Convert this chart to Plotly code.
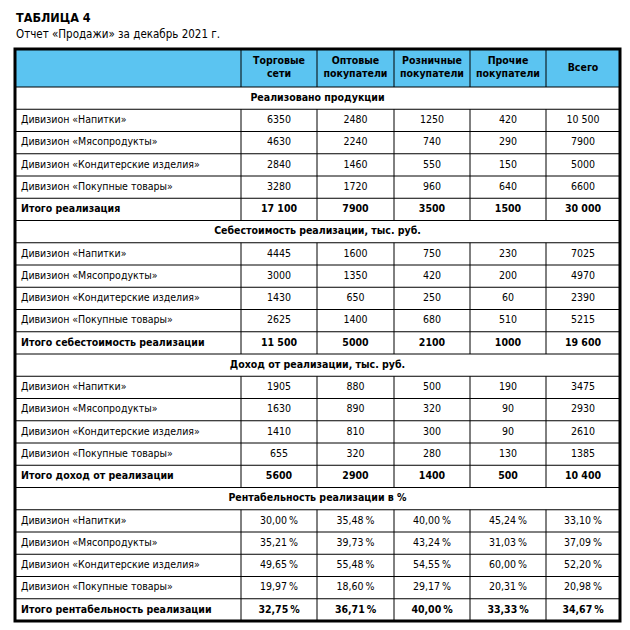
import plotly.graph_objects as go

# ---------------- data ----------------
title = "ТАБЛИЦА 4"
subtitle = "Отчет «Продажи» за декабрь 2021 г."
columns = ["Торговые<br>сети", "Оптовые<br>покупатели", "Розничные<br>покупатели", "Прочие<br>покупатели", "Всего"]
divisions = ["Дивизион «Напитки»", "Дивизион «Мясопродукты»",
             "Дивизион «Кондитерские изделия»", "Дивизион «Покупные товары»"]
sections = ["Реализовано продукции", "Себестоимость реализации, тыс. руб.",
            "Доход от реализации, тыс. руб.", "Рентабельность реализации в %"]
total_labels = ["Итого реализация", "Итого себестоимость реализации",
                "Итого доход от реализации", "Итого рентабельность реализации"]

sales = [[6350, 2480, 1250, 420, 10500],
         [4630, 2240, 740, 290, 7900],
         [2840, 1460, 550, 150, 5000],
         [3280, 1720, 960, 640, 6600]]
sales_total = [17100, 7900, 3500, 1500, 30000]

cost = [[4445, 1600, 750, 230, 7025],
        [3000, 1350, 420, 200, 4970],
        [1430, 650, 250, 60, 2390],
        [2625, 1400, 680, 510, 5215]]
cost_total = [11500, 5000, 2100, 1000, 19600]

income = [[1905, 880, 500, 190, 3475],
          [1630, 890, 320, 90, 2930],
          [1410, 810, 300, 90, 2610],
          [655, 320, 280, 130, 1385]]
income_total = [5600, 2900, 1400, 500, 10400]

margin = [[30.00, 35.48, 40.00, 45.24, 33.10],
          [35.21, 39.73, 43.24, 31.03, 37.09],
          [49.65, 55.48, 54.55, 60.00, 52.20],
          [19.97, 18.60, 29.17, 20.31, 20.98]]
margin_total = [32.75, 36.71, 40.00, 33.33, 34.67]

# ---------------- layout constants ----------------
OFF = 8  # default page body margin
W, H = 630 - OFF, 630 - OFF
x_edges = [15, 241, 317, 394, 470, 546, 620]
table_top = 49
header_bottom = 87
row_h = 22.25
blue = "#5bc4f1"
FONT = "DejaVu Sans Condensed, Liberation Sans Narrow, Roboto Condensed, Arial Narrow, sans-serif"
fs = 10.5


def fmt_num(v):
    if v >= 10000:
        return f"{v:,}".replace(",", " ")
    return str(v)


def fmt_pct(v):
    return f"{v:.2f}".replace(".", ",") + "\u2009%"


blocks = [(sales, sales_total, fmt_num), (cost, cost_total, fmt_num),
          (income, income_total, fmt_num), (margin, margin_total, fmt_pct)]

rows = []  # (kind, label, values)
for sec, tl, (vals, tot, f) in zip(sections, total_labels, blocks):
    rows.append(("section", sec, None))
    for d, v in zip(divisions, vals):
        rows.append(("data", d, [f(x) for x in v]))
    rows.append(("total", tl, [f(x) for x in tot]))

n_rows = len(rows)
row_tops = [header_bottom + i * row_h for i in range(n_rows)]
table_bottom = header_bottom + n_rows * row_h
col_centers = [(x_edges[i] + x_edges[i + 1]) / 2 for i in range(len(x_edges) - 1)]

shapes = []
shapes.append(dict(type="rect", x0=x_edges[0], x1=x_edges[-1], y0=table_top, y1=header_bottom,
                   fillcolor=blue, line=dict(width=0), layer="below"))
for xe in x_edges[1:-1]:
    shapes.append(dict(type="line", x0=xe, x1=xe, y0=table_top, y1=header_bottom,
                       line=dict(color="black", width=1)))
for i, (kind, _, _) in enumerate(rows):
    y0 = row_tops[i]
    shapes.append(dict(type="line", x0=x_edges[0], x1=x_edges[-1], y0=y0, y1=y0,
                       line=dict(color="black", width=1)))
    if kind != "section":
        for xe in x_edges[1:-1]:
            shapes.append(dict(type="line", x0=xe, x1=xe, y0=y0, y1=y0 + row_h,
                               line=dict(color="black", width=1)))
shapes.append(dict(type="rect", x0=x_edges[0], x1=x_edges[-1], y0=table_top, y1=table_bottom,
                   line=dict(color="black", width=3)))

lab_x, lab_y, lab_t = [], [], []
num_x, num_y, num_t = [], [], []
sec_x, sec_y, sec_t = [], [], []

for i, (kind, label, vals) in enumerate(rows):
    yc = row_tops[i] + row_h / 2
    if kind == "section":
        sec_x.append((x_edges[0] + x_edges[-1]) / 2)
        sec_y.append(yc)
        sec_t.append(f"<b>{label}</b>")
        continue
    bold = kind == "total"
    lab_x.append(x_edges[0] + 6)
    lab_y.append(yc)
    lab_t.append(f"<b>{label}</b>" if bold else label)
    for c, v in zip(col_centers[1:], vals):
        num_x.append(c)
        num_y.append(yc)
        num_t.append(f"<b>{v}</b>" if bold else v)

hdr_x = col_centers[1:]
hdr_y = [(table_top + header_bottom) / 2] * len(columns)
hdr_t = [f"<b>{c}</b>" for c in columns]

tf = dict(family=FONT, size=fs, color="black")
fig = go.Figure()
fig.add_trace(go.Scatter(x=lab_x, y=lab_y, text=lab_t, mode="text",
                         textposition="middle right", textfont=tf, hoverinfo="skip"))
fig.add_trace(go.Scatter(x=num_x, y=num_y, text=num_t, mode="text",
                         textposition="middle center", textfont=tf, hoverinfo="skip"))
fig.add_trace(go.Scatter(x=sec_x, y=sec_y, text=sec_t, mode="text",
                         textposition="middle center", textfont=tf, hoverinfo="skip"))
fig.add_trace(go.Scatter(x=hdr_x, y=hdr_y, text=hdr_t, mode="text",
                         textposition="middle center", textfont=tf, hoverinfo="skip"))

fig.update_layout(
    width=W, height=H, margin=dict(l=0, r=0, t=0, b=0),
    paper_bgcolor="white", plot_bgcolor="white", showlegend=False,
    xaxis=dict(range=[OFF, OFF + W], visible=False, fixedrange=True),
    yaxis=dict(range=[OFF + H, OFF], visible=False, fixedrange=True),
    shapes=shapes,
    annotations=[
        dict(x=14, y=17, xref="x", yref="y", text=f"<b>{title}</b>", showarrow=False,
             xanchor="left", yanchor="middle", font=dict(family=FONT, size=12.5, color="black")),
        dict(x=14, y=34, xref="x", yref="y", text=subtitle, showarrow=False,
             xanchor="left", yanchor="middle", font=dict(family=FONT, size=11.5, color="black")),
    ],
)

fig.write_html("out.html")
